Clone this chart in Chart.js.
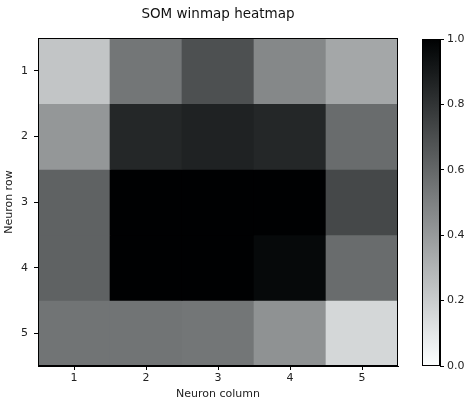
<!DOCTYPE html>
<html>
<head>
<meta charset="utf-8">
<script src="https://cdn.jsdelivr.net/npm/chart.js@4/dist/chart.umd.min.js"></script>
<style>
  html, body { margin: 0; padding: 0; background: #fff; }
  #wrap { position: relative; width: 464px; height: 401px; overflow: hidden; }
  #main { position: absolute; left: 0; top: 0; }
  #cbar { position: absolute; left: 400px; top: 0; }
</style>
</head>
<body>
<div id="wrap">
  <canvas id="main" width="436" height="401"></canvas>
  <canvas id="cbar" width="64" height="401"></canvas>
</div>
<script>
// Neuron grid labels
const columns = ['1', '2', '3', '4', '5'];
const rowNumbers = [1, 2, 3, 4, 5];

// Normalised winner counts per neuron row (columns 1..5)
const row1 = [0.23, 0.54, 0.69, 0.47, 0.35];
const row2 = [0.41, 0.85, 0.87, 0.85, 0.58];
const row3 = [0.62, 1.00, 1.00, 1.00, 0.72];
const row4 = [0.62, 1.00, 1.00, 0.97, 0.58];
const row5 = [0.55, 0.55, 0.54, 0.43, 0.16];
const rowValues = [row1, row2, row3, row4, row5];

// Colour bar ticks
const cbarTicks = [0.0, 0.2, 0.4, 0.6, 0.8, 1.0];

// Reversed grey colour map: 0 -> white, 1 -> black
function greyColor(v) {
  const t = Math.max(0, Math.min(1, v));
  const g = Math.round(255 * (1 - t));
  const r = Math.max(0, g - 2);
  const gg = Math.min(255, g + 1);
  const b = Math.min(255, g + 2);
  return `rgb(${r},${gg},${b})`;
}

const FONT = 'DejaVu Sans';
const TXT = '#222';

// Black frame around a chart area
const framePlugin = {
  id: 'frame',
  afterDatasetsDraw(chart) {
    const { ctx, chartArea: a } = chart;
    ctx.save();
    ctx.strokeStyle = '#000';
    ctx.lineWidth = 1;
    ctx.strokeRect(Math.round(a.left) + 0.5, Math.round(a.top) + 0.5,
                   Math.round(a.right - a.left) - 1, Math.round(a.bottom - a.top) - 1);
    ctx.restore();
  }
};

const datasets = rowNumbers.map((r, i) => ({
  label: 'row ' + r,
  data: columns.map(() => [r - 0.5, r + 0.5]),
  backgroundColor: rowValues[i].map(greyColor),
  borderWidth: 0,
  barPercentage: 1,
  categoryPercentage: 1,
  grouped: false
}));

new Chart(document.getElementById('main'), {
  type: 'bar',
  data: { labels: columns, datasets },
  options: {
    responsive: false,
    animation: false,
    devicePixelRatio: 1,
    layout: { padding: 0 },
    plugins: {
      legend: { display: false },
      tooltip: { enabled: false },
      title: {
        display: true,
        text: 'SOM winmap heatmap',
        color: '#111',
        font: { family: FONT, size: 13.5, weight: 'normal' },
        padding: { top: 6, bottom: 16 }
      }
    },
    scales: {
      x: {
        type: 'category',
        offset: true,
        grid: { display: true, drawOnChartArea: false, drawTicks: true, tickLength: 4, color: '#000', offset: false },
        border: { display: true, color: '#000' },
        ticks: { color: TXT, font: { family: FONT, size: 11 }, padding: 2, maxRotation: 0 },
        title: { display: true, text: 'Neuron column', color: TXT, font: { family: FONT, size: 11 }, padding: { top: 1, bottom: 0 } },
        afterFit(scale) { scale.height = 35; }
      },
      y: {
        type: 'linear',
        reverse: true,
        min: 0.5,
        max: 5.5,
        afterBuildTicks(scale) { scale.ticks = rowNumbers.map(v => ({ value: v })); },
        grid: { display: true, drawOnChartArea: false, drawTicks: true, tickLength: 4, color: '#000' },
        border: { display: true, color: '#000' },
        ticks: { color: TXT, font: { family: FONT, size: 11 }, padding: 6 },
        title: { display: true, text: 'Neuron row', color: TXT, font: { family: FONT, size: 11 }, padding: { top: 3, bottom: 0 } },
        afterFit(scale) { scale.width = 38; }
      },
      // empty right-hand strip that keeps the title centred over the plot
      yRight: {
        type: 'linear',
        position: 'right',
        display: true,
        grid: { display: false },
        border: { display: false },
        ticks: { display: false },
        afterFit(scale) { scale.width = 38; }
      }
    }
  },
  plugins: [framePlugin]
});

// Colour bar
new Chart(document.getElementById('cbar'), {
  type: 'bar',
  data: {
    labels: [''],
    datasets: [{
      data: [[0, 1]],
      borderWidth: 0,
      barPercentage: 1,
      categoryPercentage: 1,
      backgroundColor(ctx) {
        const chart = ctx.chart;
        const a = chart.chartArea;
        if (!a) return '#888';
        const y = chart.scales.y;
        const grad = chart.ctx.createLinearGradient(0, y.getPixelForValue(0), 0, y.getPixelForValue(1));
        for (let k = 0; k <= 20; k++) {
          grad.addColorStop(k / 20, greyColor(k / 20));
        }
        return grad;
      }
    }]
  },
  options: {
    responsive: false,
    animation: false,
    devicePixelRatio: 1,
    layout: { padding: { left: 22, right: 0, top: 39, bottom: 35 } },
    plugins: { legend: { display: false }, tooltip: { enabled: false } },
    scales: {
      x: { display: false, offset: true },
      y: {
        position: 'right',
        min: 0,
        max: 1,
        afterBuildTicks(scale) { scale.ticks = cbarTicks.map(v => ({ value: v })); },
        grid: { display: true, drawOnChartArea: false, drawTicks: true, tickLength: 4, color: '#000' },
        border: { display: true, color: '#000' },
        ticks: { color: TXT, font: { family: FONT, size: 11 }, padding: 3, callback: v => Number(v).toFixed(1) },
        afterFit(scale) { scale.width = 24; }
      }
    }
  },
  plugins: [framePlugin]
});
</script>
</body>
</html>
